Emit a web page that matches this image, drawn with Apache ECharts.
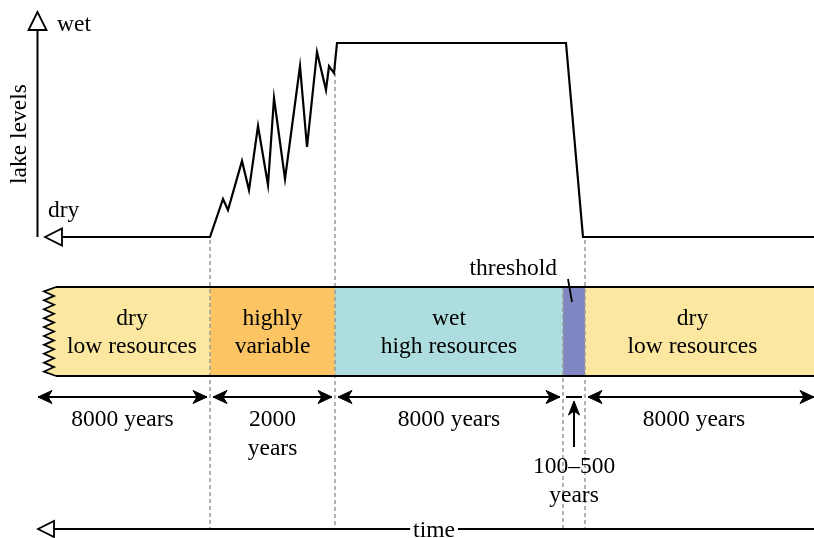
<!DOCTYPE html>
<html>
<head>
<meta charset="utf-8">
<script src="https://cdn.jsdelivr.net/npm/echarts@6.0.0/dist/echarts.min.js"></script>
<style>
html,body{margin:0;padding:0;background:#fff;}
#c{width:814px;height:538px;}
</style>
</head>
<body>
<div id="c"></div>
<script>
// ---------------- data ----------------
// Lake-level curve: schematic time position (left = past .. right) and level (0 = dry, 100 = wet)
const lakeTime  = [62, 210, 223, 228, 242, 249, 258, 268, 274, 285, 300, 307, 317, 326, 329, 334, 337, 566, 583, 814];
const lakeLevel = [0,   0,  19.6, 13.9, 39.2, 24.2, 57.2, 26.8, 71.6, 29.9, 88.1, 46.4, 95.4, 75.8, 88.1, 84.5, 100, 100, 0, 0];

// Phases along the same time scale
const phaseStart  = [56, 210, 335, 563, 585];
const phaseEnd    = [210, 335, 563, 585, 814];
const phaseLabels = ['dry\nlow resources', 'highly\nvariable', 'wet\nhigh resources', '', 'dry\nlow resources'];
const durationLabels = ['8000 years', '2000\nyears', '8000 years', '100–500\nyears', '8000 years'];
const thresholdLabel = 'threshold';
const axisLabels = { yTitle: 'lake levels', top: 'wet', bottom: 'dry', x: 'time' };

// ---------------- styling / layout constants ----------------
const PHASE_COLORS = ['#FCE7A0', '#FCC463', '#AEDDE0', '#7F86C2', '#FCE7A0'];
const FONT = '"Liberation Serif", "Times New Roman", serif';
const FS = 23.5;
const W = 814, H = 538;
const LAKE_TOP = 43, LAKE_H = 194;
const ROW = { bandTop: 287, bandBottom: 376, dim: 397, dimLabel: 420, lineGap: 29,
              thrArrowTop: 401, thrArrowBottom: 447, thrLabel: 467, timeAxis: 529 };

function lakeY(level) { return LAKE_TOP + (1 - level / 100) * LAKE_H; }
function lakeLevelAt(t) {
  for (let i = 1; i < lakeTime.length; i++) {
    if (t <= lakeTime[i]) {
      const f = (t - lakeTime[i - 1]) / (lakeTime[i] - lakeTime[i - 1]);
      return lakeLevel[i - 1] + f * (lakeLevel[i] - lakeLevel[i - 1]);
    }
  }
  return lakeLevel[lakeLevel.length - 1];
}

const chart = echarts.init(document.getElementById('c'), null, { renderer: 'canvas' });

function textEl(x, y, str, align, extra) {
  return { type: 'text', x: x, y: y,
    style: Object.assign({ text: str, x: 0, y: 0, fill: '#000', fontFamily: FONT, fontSize: FS,
      align: align || 'center', verticalAlign: 'middle' }, extra || {}) };
}
function lineEl(a, b, style) {
  return { type: 'line', shape: { x1: a[0], y1: a[1], x2: b[0], y2: b[1] },
    style: Object.assign({ stroke: '#000', lineWidth: 2 }, style || {}) };
}
function arrowHead(tip, dir, len, half) {
  if (dir === 'up') {
    return { type: 'polygon', shape: { points: [tip, [tip[0] - half, tip[1] + len], [tip[0], tip[1] + len * 0.72], [tip[0] + half, tip[1] + len]] },
      style: { fill: '#000', stroke: '#000', lineWidth: 1 } };
  }
  return { type: 'polygon', shape: { points: [tip, [tip[0] - dir * len, tip[1] - half], [tip[0] - dir * len * 0.72, tip[1]], [tip[0] - dir * len, tip[1] + half]] },
    style: { fill: '#000', stroke: '#000', lineWidth: 1 } };
}
function openTriangle(tip, dir, len, half) {
  let pts;
  if (dir === 'up') pts = [tip, [tip[0] - half, tip[1] + len], [tip[0] + half, tip[1] + len]];
  else pts = [tip, [tip[0] + len, tip[1] - half], [tip[0] + len, tip[1] + half]];
  return { type: 'polygon', shape: { points: pts }, style: { fill: '#fff', stroke: '#000', lineWidth: 1.8 } };
}

// ---- phase bands ----
function renderBands(params, api) {
  const i = params.dataIndex;
  const x0 = api.value(0), x1 = api.value(1);
  const P = (x, y) => api.coord([x, y]);
  const children = [];
  if (i === 0) {
    const n = 10, p = (ROW.bandTop - ROW.bandBottom) / -n;
    const zig = [P(x0, ROW.bandTop)];
    for (let k = 0; k < n; k++) {
      zig.push(P(x0 - 12, ROW.bandTop + p * (k + 0.5)));
      if (k < n - 1) zig.push(P(x0 - 2, ROW.bandTop + p * (k + 1)));
    }
    zig.push(P(x0, ROW.bandBottom));
    children.push({ type: 'polygon', shape: { points: zig.concat([P(x1, ROW.bandBottom), P(x1, ROW.bandTop)]) },
      style: { fill: PHASE_COLORS[i], stroke: null } });
    children.push({ type: 'polyline', shape: { points: zig }, style: { stroke: '#000', lineWidth: 1.8, fill: null } });
  } else {
    const a = P(x0, ROW.bandTop), b = P(x1, ROW.bandBottom);
    children.push({ type: 'rect', shape: { x: a[0], y: a[1], width: b[0] - a[0], height: b[1] - a[1] },
      style: { fill: PHASE_COLORS[i] } });
  }
  return { type: 'group', children: children };
}

function renderBandText(params, api) {
  const i = params.dataIndex;
  const x0 = api.value(0), x1 = api.value(1);
  const right = (i === phaseStart.length - 1) ? 800 : x1;
  const left = (i === 0) ? 54 : x0;
  const lines = phaseLabels[i] ? phaseLabels[i].split('\n') : [];
  const mid = (ROW.bandTop + ROW.bandBottom) / 2 + 1.5;
  const children = lines.map((s, k) => {
    const c = api.coord([(left + right) / 2, mid - 14 + 28 * k]);
    return textEl(c[0], c[1], s);
  });
  return { type: 'group', children: children };
}

// ---- dimension arrows & durations ----
function renderDims(params, api) {
  const i = params.dataIndex, last = phaseStart.length - 1;
  const P = (x, y) => api.coord([x, y]);
  const xs = i === 0 ? 38 : phaseStart[i] + 3;
  const xe = i === last ? W : phaseEnd[i] - 3;
  const children = [];
  const a = P(xs, ROW.dim), b = P(xe, ROW.dim);
  const isThreshold = (phaseLabels[i] === '');
  children.push(lineEl(a, b, { lineWidth: 2 }));
  if (!isThreshold) {
    children.push(arrowHead(a, -1, 14, 6.5));
    children.push(arrowHead(b, 1, 14, 6.5));
    const right = i === last ? 800 : xe;
    durationLabels[i].split('\n').forEach((s, k) => {
      const c = P((xs + right) / 2, ROW.dimLabel + ROW.lineGap * k);
      children.push(textEl(c[0], c[1], s));
    });
  } else {
    const cx = (phaseStart[i] + phaseEnd[i]) / 2;
    const t = P(cx, ROW.thrArrowTop), bt = P(cx, ROW.thrArrowBottom);
    children.push(lineEl([t[0], t[1] + 8], bt, { lineWidth: 2 }));
    children.push(arrowHead(t, 'up', 14, 5.5));
    durationLabels[i].split('\n').forEach((s, k) => {
      const c = P(cx, ROW.thrLabel + ROW.lineGap * k);
      children.push(textEl(c[0], c[1], s));
    });
    const lt = P(phaseStart[i] - 6, 269);
    children.push(textEl(lt[0], lt[1], thresholdLabel, 'right'));
    children.push(lineEl(P(phaseStart[i] + 5, 279), P(phaseStart[i] + 9, 302), { lineWidth: 1.8 }));
  }
  return { type: 'group', children: children };
}

// ---- dashed boundary lines ----
const boundaryTimes = phaseEnd.slice(0, phaseEnd.length - 1);
function renderDashes(params, api) {
  const t = api.value(0);
  const fromCurve = !(phaseStart.indexOf(t) === 3);
  const top = fromCurve ? lakeY(lakeLevelAt(t)) + 3 : ROW.bandTop;
  const a = api.coord([t, top]), b = api.coord([t, ROW.timeAxis]);
  return lineEl(a, b, { stroke: '#9a9a9a', lineWidth: 1.5, lineDash: [4, 3] });
}

// ---- frame, axes ----
function renderFrame(params, api) {
  const P = (x, y) => api.coord([x, y]);
  const x0 = phaseStart[0], xr = W;
  const yBase = lakeY(0);
  const children = [
    lineEl(P(x0, ROW.bandTop), P(xr, ROW.bandTop), { lineWidth: 2 }),
    lineEl(P(x0, ROW.bandBottom), P(xr, ROW.bandBottom), { lineWidth: 2 }),
    lineEl(P(37.5, 30), P(37.5, yBase), { lineWidth: 2 }),
    openTriangle(P(37.5, 12), 'up', 18, 9),
    openTriangle(P(45, yBase), 'left', 17, 8.5),
    lineEl(P(54, ROW.timeAxis), P(xr, ROW.timeAxis), { lineWidth: 2 }),
    openTriangle(P(38, ROW.timeAxis), 'left', 16, 8),
  ];
  const tt = P(434, ROW.timeAxis + 2);
  children.push(textEl(tt[0], tt[1], axisLabels.x, 'center', { backgroundColor: '#fff', padding: [0, 3] }));
  const w = P(57, 25); children.push(textEl(w[0], w[1], axisLabels.top, 'left'));
  const d = P(48, 211); children.push(textEl(d[0], d[1], axisLabels.bottom, 'left'));
  const yt = P(20, 134);
  children.push({ type: 'text', x: yt[0], y: yt[1], rotation: Math.PI / 2,
    style: { text: axisLabels.yTitle, x: 0, y: 0, fill: '#000', fontFamily: FONT, fontSize: FS, align: 'center', verticalAlign: 'middle' } });
  return { type: 'group', children: children };
}

chart.setOption({
  animation: false,
  backgroundColor: '#fff',
  grid: [
    { left: 0, right: 0, top: LAKE_TOP, height: LAKE_H },
    { left: 0, right: 0, top: 0, bottom: 0 }
  ],
  xAxis: [
    { type: 'value', gridIndex: 0, min: 0, max: W, show: false },
    { type: 'value', gridIndex: 1, min: 0, max: W, show: false }
  ],
  yAxis: [
    { type: 'value', gridIndex: 0, min: 0, max: 100, show: false },
    { type: 'value', gridIndex: 1, min: 0, max: H, inverse: true, show: false }
  ],
  series: [
    { type: 'custom', xAxisIndex: 1, yAxisIndex: 1, z: 1, clip: false,
      data: phaseStart.map((s, i) => [s, phaseEnd[i]]), renderItem: renderBands },
    { type: 'custom', xAxisIndex: 1, yAxisIndex: 1, z: 2, clip: false,
      data: boundaryTimes.map(t => [t]), renderItem: renderDashes },
    { type: 'custom', xAxisIndex: 1, yAxisIndex: 1, z: 3, clip: false,
      data: [[0, 0]], renderItem: renderFrame },
    { type: 'custom', xAxisIndex: 1, yAxisIndex: 1, z: 4, clip: false,
      data: phaseStart.map((s, i) => [s, phaseEnd[i]]), renderItem: renderBandText },
    { type: 'custom', xAxisIndex: 1, yAxisIndex: 1, z: 4, clip: false,
      data: phaseStart.map((s, i) => [s, phaseEnd[i]]), renderItem: renderDims },
    { type: 'line', xAxisIndex: 0, yAxisIndex: 0, z: 5, showSymbol: false, symbol: 'none',
      lineStyle: { color: '#000', width: 2.2, join: 'miter' }, clip: false,
      data: lakeTime.map((t, i) => [t, lakeLevel[i]]) }
  ]
});
</script>
</body>
</html>
